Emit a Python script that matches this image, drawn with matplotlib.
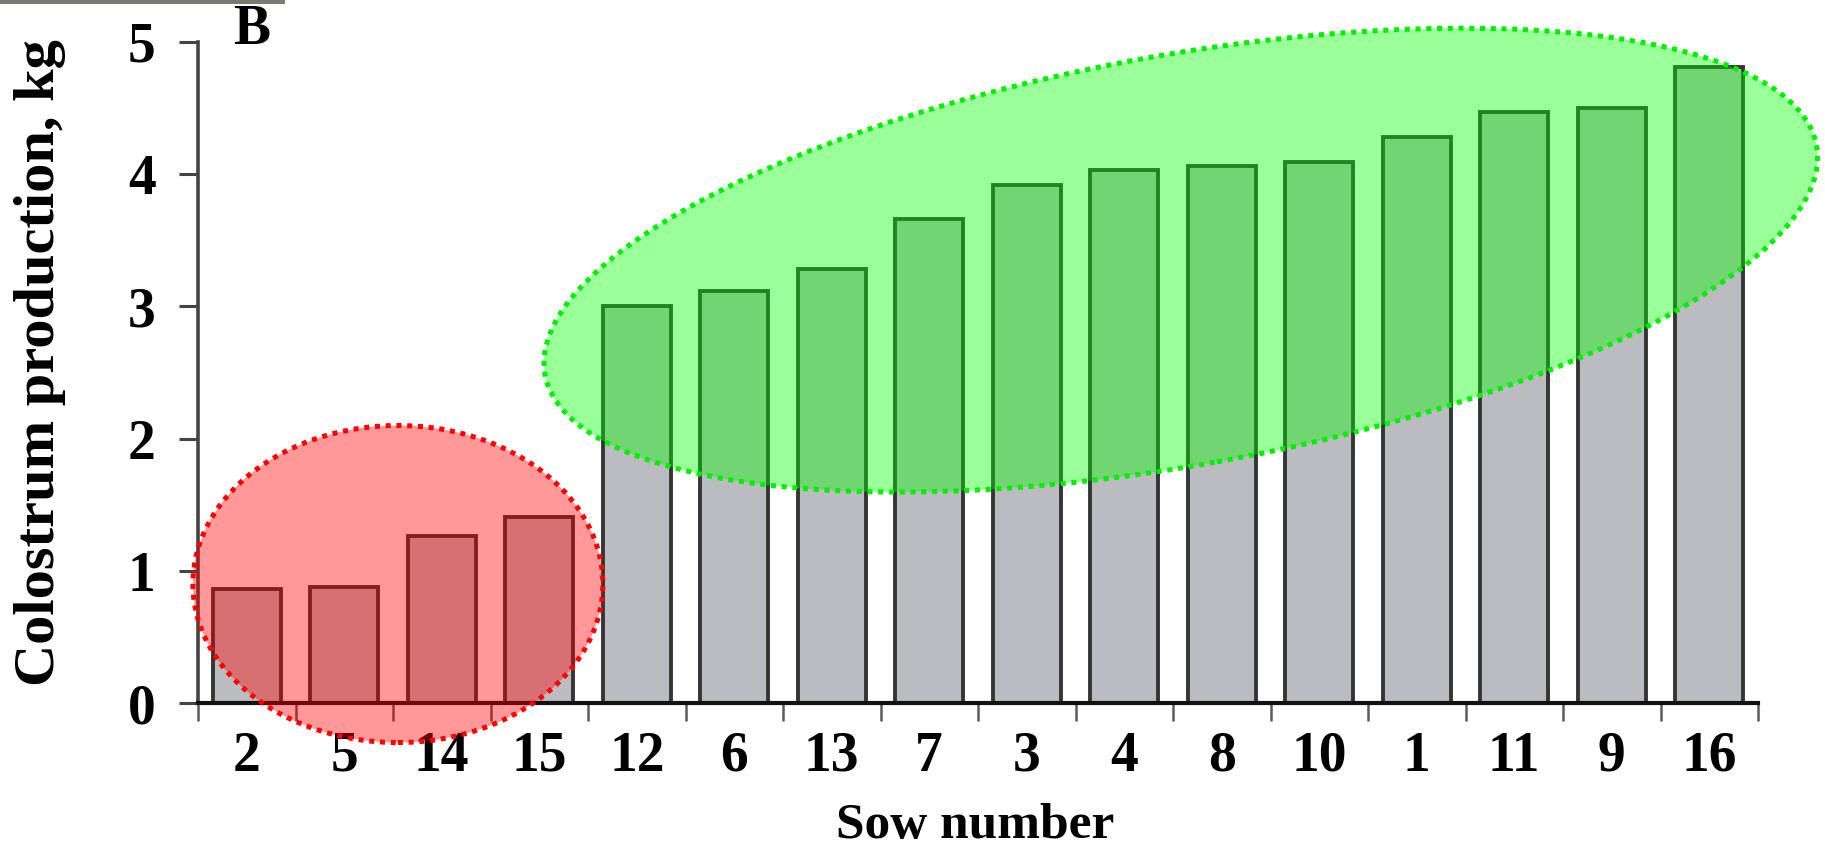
import matplotlib
matplotlib.use("Agg")
import matplotlib.pyplot as plt
from matplotlib.patches import Ellipse, Rectangle
from matplotlib.transforms import ScaledTranslation

plt.rcParams['font.family'] = ['Liberation Serif', 'DejaVu Serif']
plt.rcParams['font.weight'] = 'bold'

# sows sorted by colostrum yield
sow_labels = ['2', '5', '14', '15', '12', '6', '13', '7', '3', '4', '8', '10', '1', '11', '9', '16']
colostrum_kg = [0.86, 0.88, 1.26, 1.41, 3.00, 3.12, 3.28, 3.66, 3.92, 4.03, 4.06, 4.09, 4.28, 4.47, 4.50, 4.81]
y_ticks = [0, 1, 2, 3, 4, 5]

# group outlines: (centre x, centre y) in data units, size in inches
low_group = dict(center=(1.55, 0.90), width=4.10, height=3.17, angle=0.0,
                 face='#ff0000', edge='#ff0000')
high_group = dict(center=(9.58, 3.35), width=12.92, height=4.10, angle=10.2,
                  face='#00ff00', edge='#00ee00')

fig = plt.figure(figsize=(18.25, 8.5), dpi=100)
ax = fig.add_axes([198 / 1825, 147 / 850, 1560 / 1825, 661 / 850])

x = list(range(len(sow_labels)))
ax.bar(x, colostrum_kg, width=0.7, color='#bbbcbf', edgecolor='#353535',
       linewidth=2.8, zorder=2)

ax.set_xlim(-0.5, len(sow_labels) - 0.5)
ax.set_ylim(0, 5)

ax.spines['top'].set_visible(False)
ax.spines['right'].set_visible(False)
ax.spines['left'].set_color('#444444')
ax.spines['left'].set_linewidth(2.6)
ax.spines['bottom'].set_color('#111111')
ax.spines['bottom'].set_linewidth(3.0)

ax.set_yticks(y_ticks)
ax.set_yticklabels([str(v) for v in y_ticks])
ax.tick_params(axis='y', length=13.5, width=2.2, color='#444444', pad=17,
               labelsize=40)

ax.set_xticks(x)
ax.set_xticklabels(sow_labels)
ax.set_xticks([i - 0.5 for i in range(len(sow_labels) + 1)], minor=True)
ax.tick_params(axis='x', which='major', length=0, pad=20, labelsize=40)
ax.tick_params(axis='x', which='minor', length=13, width=1.8, color='#5a5a5a')

for g in (low_group, high_group):
    tr = fig.dpi_scale_trans + ScaledTranslation(*g['center'], ax.transData)
    fill = Ellipse((0, 0), g['width'], g['height'], angle=g['angle'],
                   transform=tr, facecolor=g['face'], alpha=0.4,
                   edgecolor='none', zorder=5, clip_on=False)
    ring = Ellipse((0, 0), g['width'], g['height'], angle=g['angle'],
                   transform=tr, facecolor='none', edgecolor=g['edge'],
                   linewidth=3.6, linestyle=(0, (1.0, 1.15)), zorder=6,
                   clip_on=False)
    ax.add_patch(fill)
    ax.add_patch(ring)

fig.text(40 / 1825, 1 - 363 / 850, 'Colostrum production, kg', rotation=90,
         ha='center', va='center', fontsize=42, fontweight='bold')
fig.text(975 / 1825, 1 - 838 / 850, 'Sow number', ha='center', va='baseline',
         fontsize=37, fontweight='bold')
fig.text(233 / 1825, 1 - 4 / 850, 'B', ha='left', va='top', fontsize=40,
         fontweight='bold')

# thin rule left over at the top edge
fig.add_artist(Rectangle((0, 1 - 4 / 850), 285 / 1825, 4 / 850,
                         transform=fig.transFigure, facecolor='#7a7a72',
                         edgecolor='none'))

fig.savefig('out.png', dpi=100)
